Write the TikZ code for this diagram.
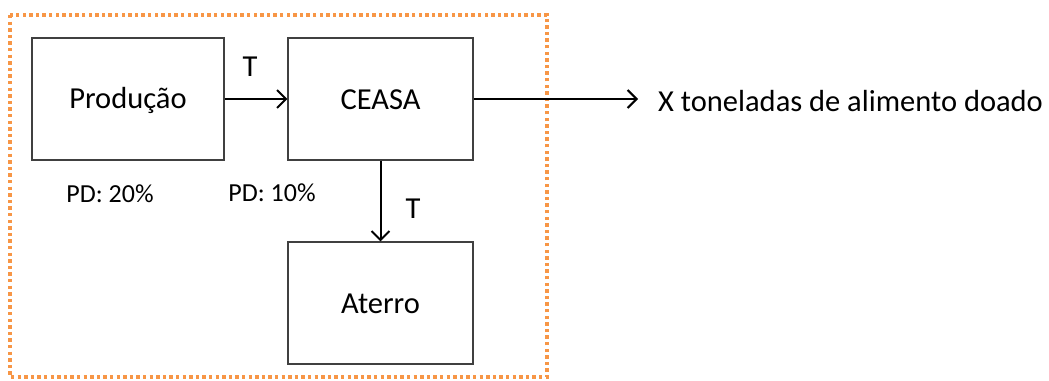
\documentclass[tikz,border=0pt]{standalone}
\usepackage{fontspec}
\setmainfont{Carlito}
\usetikzlibrary{arrows.meta}
\definecolor{orng}{RGB}{247,150,70}
\begin{document}
\begin{tikzpicture}[x=1pt,y=-1pt,
  boxnode/.style={draw=black!75,line width=1.1pt,minimum width=#1,inner sep=0pt},
  lbl/.style={font=\fontsize{30.5}{32}\selectfont,inner sep=0pt},
  small/.style={font=\fontsize{26}{28}\selectfont,inner sep=0pt},
  conn/.style={line width=2pt,-{Straight Barb[length=9pt,width=18pt,line width=2pt]}}]
\useasboundingbox (0,0) rectangle (1049,380);
\draw[orng,line width=3.4pt,dash pattern=on 3.4pt off 3.2pt] (10,15) rectangle (547,377);
\node[boxnode=192pt,minimum height=122pt] (prod) at (128,99) {};
\node[lbl] at (128,100) {Produção};
\node[boxnode=185pt,minimum height=122pt] (ceasa) at (380.5,99) {};
\node[lbl] at (380.5,100) {CEASA};
\node[boxnode=185pt,minimum height=122pt] (aterro) at (380.5,303) {};
\node[lbl] at (380.5,304) {Aterro};
\coordinate (out) at (638,99);
\node[lbl,anchor=west] (txt) at (658,101) {X toneladas de alimento doado};
\draw[conn] (prod.east) -- (ceasa.west);
\draw[conn] (ceasa.east) -- (out);
\draw[conn] (ceasa.south) -- (aterro.north);
\node[lbl] (t1) at (250,67) {T};
\node[lbl] (t2) at (413,209) {T};
\node[small] (pd1) at (110,194) {PD: 20\%};
\node[small] (pd2) at (272,193) {PD: 10\%};
\end{tikzpicture}
\end{document}
